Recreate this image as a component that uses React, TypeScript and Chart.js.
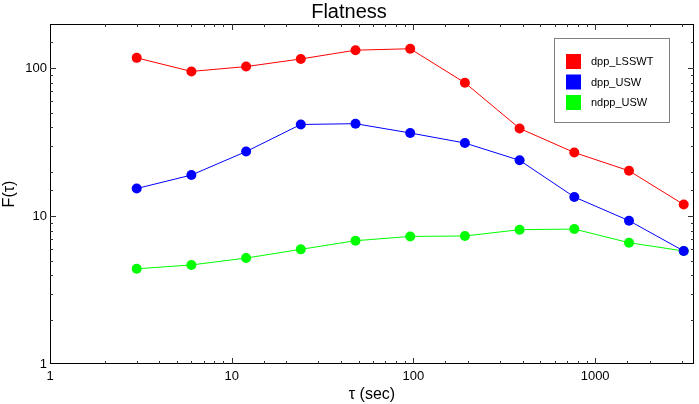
import React, { useEffect, useRef } from "react";
import { Chart, registerables } from "chart.js";

Chart.register(...registerables);

const tau = [3, 6, 12, 24, 48, 96, 192, 384, 768, 1536, 3072];
const dppLSSWT = [118, 95.5, 103, 116, 133, 136, 80, 39.3, 27, 20.3, 12.0];
const dppUSW = [15.4, 19.0, 27.4, 41.8, 42.3, 36.6, 31.3, 23.9, 13.5, 9.33, 5.82];
const ndppUSW = [4.41, 4.68, 5.21, 5.97, 6.83, 7.3, 7.35, 8.11, 8.19, 6.62, 5.82];
const seriesNames = ["dpp_LSSWT", "dpp_USW", "ndpp_USW"];
const seriesColors = ["#ff0000", "#0000ff", "#00ff00"];
const xRange = [1, 3500];
const yRange = [1, 200];

const FONT = "'Liberation Sans', Arial, Helvetica, sans-serif";

const isMajor = (v: number) => {
  const l = Math.log10(v);
  return Math.abs(l - Math.round(l)) < 1e-9;
};

const framePlugin = {
  id: "frame",
  afterDatasetsDraw(chart: any) {
    const { ctx, chartArea: a, scales } = chart;
    ctx.save();
    ctx.strokeStyle = "#000";
    ctx.lineWidth = 1;
    ctx.strokeRect(a.left + 0.5, a.top + 0.5, a.right - a.left - 1, a.bottom - a.top - 1);
    ctx.strokeStyle = "#333";
    const xs = scales.x;
    xs.ticks.forEach((t: any) => {
      const px = Math.round(xs.getPixelForValue(t.value)) + 0.5;
      if (px <= a.left + 1 || px >= a.right - 1) return;
      const len = isMajor(t.value) ? 6 : 3;
      ctx.beginPath();
      ctx.moveTo(px, a.bottom);
      ctx.lineTo(px, a.bottom - len);
      ctx.moveTo(px, a.top);
      ctx.lineTo(px, a.top + len);
      ctx.stroke();
    });
    const ys = scales.y;
    ys.ticks.forEach((t: any) => {
      const py = Math.round(ys.getPixelForValue(t.value)) + 0.5;
      if (py <= a.top + 1 || py >= a.bottom - 1) return;
      const len = isMajor(t.value) ? 6 : 3;
      ctx.beginPath();
      ctx.moveTo(a.left, py);
      ctx.lineTo(a.left + len, py);
      ctx.moveTo(a.right, py);
      ctx.lineTo(a.right - len, py);
      ctx.stroke();
    });
    // legend
    const bx = a.right - 140;
    const by = a.top + 14;
    const bw = 115;
    const bh = 84;
    ctx.fillStyle = "#fff";
    ctx.fillRect(bx, by, bw, bh);
    ctx.strokeStyle = "#808080";
    ctx.strokeRect(bx + 0.5, by + 0.5, bw, bh);
    ctx.font = `11px ${FONT}`;
    ctx.textBaseline = "middle";
    ctx.textAlign = "left";
    chart.data.datasets.forEach((ds: any, i: number) => {
      const cy = by + 23 + i * 20.5;
      ctx.fillStyle = ds.borderColor;
      ctx.fillRect(bx + 12, cy - 7, 15, 15);
      ctx.fillStyle = "#000";
      ctx.fillText(ds.label, bx + 37, cy + 1);
    });
    ctx.restore();
  },
};

export default function App() {
  const ref = useRef<HTMLCanvasElement | null>(null);
  useEffect(() => {
    document.body.style.margin = "0";
    const series = [dppLSSWT, dppUSW, ndppUSW];
    const chart = new Chart(ref.current!, {
      type: "line",
      data: {
        datasets: series.map((s, i) => ({
          label: seriesNames[i],
          data: tau.map((t, j) => ({ x: t, y: s[j] })),
          borderColor: seriesColors[i],
          backgroundColor: seriesColors[i],
          borderWidth: 1,
          pointRadius: 5,
          pointBorderWidth: 0,
          pointHoverRadius: 5,
          tension: 0,
        })),
      },
      options: {
        animation: false,
        responsive: false,
        devicePixelRatio: 1,
        events: [],
        layout: { padding: { left: 0, right: 1, top: 0, bottom: 0 } },
        plugins: {
          legend: { display: false },
          tooltip: { enabled: false },
          title: {
            display: true,
            text: "Flatness",
            color: "#000",
            font: { family: FONT, size: 20, weight: "normal" },
            padding: { top: 0, bottom: 0 },
          },
        },
        scales: {
          x: {
            type: "logarithmic",
            min: xRange[0],
            max: xRange[1],
            grid: { display: false, drawTicks: false },
            border: { display: false },
            ticks: {
              autoSkip: false,
              maxRotation: 0,
              padding: 5,
              color: "#000",
              font: { family: FONT, size: 13 },
              callback: (v: any) => (isMajor(Number(v)) ? String(Number(v)) : ""),
            },
            title: {
              display: true,
              text: "τ (sec)",
              color: "#000",
              font: { family: FONT, size: 16 },
              padding: { top: 0, bottom: 0 },
            },
            afterFit: (s: any) => {
              s.height = 40;
            },
          },
          y: {
            type: "logarithmic",
            min: yRange[0],
            max: yRange[1],
            grid: { display: false, drawTicks: false },
            border: { display: false },
            ticks: {
              autoSkip: false,
              padding: 3,
              color: "#000",
              font: { family: FONT, size: 13 },
              callback: (v: any) => (isMajor(Number(v)) ? String(Number(v)) : ""),
            },
            title: {
              display: true,
              text: "F(τ)",
              color: "#000",
              font: { family: FONT, size: 16 },
              padding: { top: 0, bottom: 0 },
            },
            afterFit: (s: any) => {
              s.width = 50;
            },
          },
        },
      },
      plugins: [framePlugin],
    });
    return () => chart.destroy();
  }, []);
  return (
    <div style={{ position: "absolute", left: 0, top: 0, width: 699, height: 404, background: "#fff" }}>
      <canvas ref={ref} width={699} height={404} style={{ width: 699, height: 404 }} />
    </div>
  );
}
